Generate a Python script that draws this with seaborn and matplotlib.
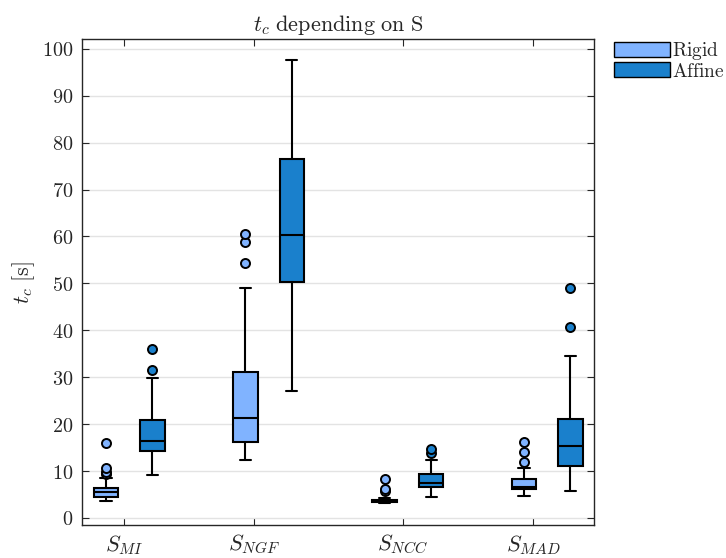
import matplotlib
matplotlib.use("Agg")
import matplotlib.pyplot as plt
from matplotlib.patches import Patch
from matplotlib.ticker import FuncFormatter
import seaborn as sns

metrics = [r'$S_{MI}$', r'$S_{NGF}$', r'$S_{NCC}$', r'$S_{MAD}$']
methods = ['Rigid', 'Affine']
colors = {'Rigid': '#80B3FF', 'Affine': '#1A80CC'}

# box statistics: [whislo, q1, median, q3, whishi]
rigid_stats = [
    [3.7, 4.55, 5.5, 6.3, 8.6],
    [12.3, 16.1, 21.4, 31.2, 49.1],
    [3.2, 3.4, 3.6, 3.9, 4.2],
    [4.7, 6.1, 6.7, 8.25, 10.6],
]
affine_stats = [
    [9.1, 14.35, 16.3, 20.8, 29.8],
    [27.1, 50.3, 60.3, 76.5, 97.7],
    [4.4, 6.7, 7.4, 9.3, 12.3],
    [5.75, 11.1, 15.4, 21.1, 34.5],
]
rigid_fliers = [[9.4, 9.9, 10.6, 15.9], [54.3, 58.9, 60.6], [5.7, 6.2, 8.3], [11.9, 14.0, 16.1]]
affine_fliers = [[31.6, 36.0], [], [13.9, 14.7], [40.7, 49.0]]

yticks = list(range(0, 101, 10))


def make_stats(stats, fliers):
    out = []
    for s, f in zip(stats, fliers):
        out.append(dict(whislo=s[0], q1=s[1], med=s[2], q3=s[3], whishi=s[4], fliers=f))
    return out


def main():
    sns.set_theme(style="ticks")
    plt.rcParams['mathtext.fontset'] = 'cm'
    plt.rcParams['font.family'] = ['DejaVu Serif']

    fig = plt.figure(figsize=(7.26, 5.58), dpi=100)
    ax = fig.add_axes([82 / 726, 1 - 525 / 558, 512 / 726, 486 / 558])

    ax.grid(axis='y', color='#e3e3e3', lw=1.0, zorder=0)

    groups = [(rigid_stats, rigid_fliers, 'Rigid', 0.0), (affine_stats, affine_fliers, 'Affine', 0.333)]
    for stats, fliers, name, off in groups:
        pos = [i + 1 + off for i in range(len(metrics))]
        c = colors[name]
        ax.bxp(make_stats(stats, fliers), positions=pos, widths=0.175, capwidths=0.08,
               patch_artist=True, manage_ticks=False,
               boxprops=dict(facecolor=c, edgecolor='black', lw=1.5),
               medianprops=dict(color='black', lw=1.5),
               whiskerprops=dict(color='black', lw=1.5),
               capprops=dict(color='black', lw=1.5),
               flierprops=dict(marker='o', markerfacecolor=c, markeredgecolor='black',
                               markersize=6.5, markeredgewidth=1.4),
               zorder=3)

    ax.set_xlim(0.828, 4.502)
    ax.set_ylim(-1.5, 102.1)
    ax.set_xticks([1.13, 2.065, 3.13, 4.065])
    ax.set_xticklabels(metrics, fontsize=16)
    ax.set_yticks(yticks)
    ax.yaxis.set_major_formatter(FuncFormatter(lambda v, p: f'${v:g}$'))
    ax.tick_params(axis='y', labelsize=14.5)
    ax.tick_params(direction='in', length=5, width=0.8, color='#262626',
                   top=True, right=True, pad=6)
    for sp in ax.spines.values():
        sp.set_color('#262626')
        sp.set_linewidth(1.0)

    ax.set_title(r'$t_c\ \mathrm{depending\ on\ S}$', fontsize=16, pad=6)
    ax.set_ylabel(r'$t_c\ \mathrm{[s]}$', fontsize=16, labelpad=4)

    handles = [Patch(facecolor=colors[m], edgecolor='black', lw=1.0, label=rf'$\mathrm{{{m}}}$')
               for m in methods]
    fig.legend(handles=handles, loc='upper left', bbox_to_anchor=(614 / 726, 1 - 40 / 558),
               frameon=False, fontsize=14, handlelength=2.9, handleheight=0.8,
               handletextpad=0.1, labelspacing=0.02, borderpad=0, borderaxespad=0)

    fig.savefig('out.png', dpi=100)


if __name__ == '__main__':
    main()
